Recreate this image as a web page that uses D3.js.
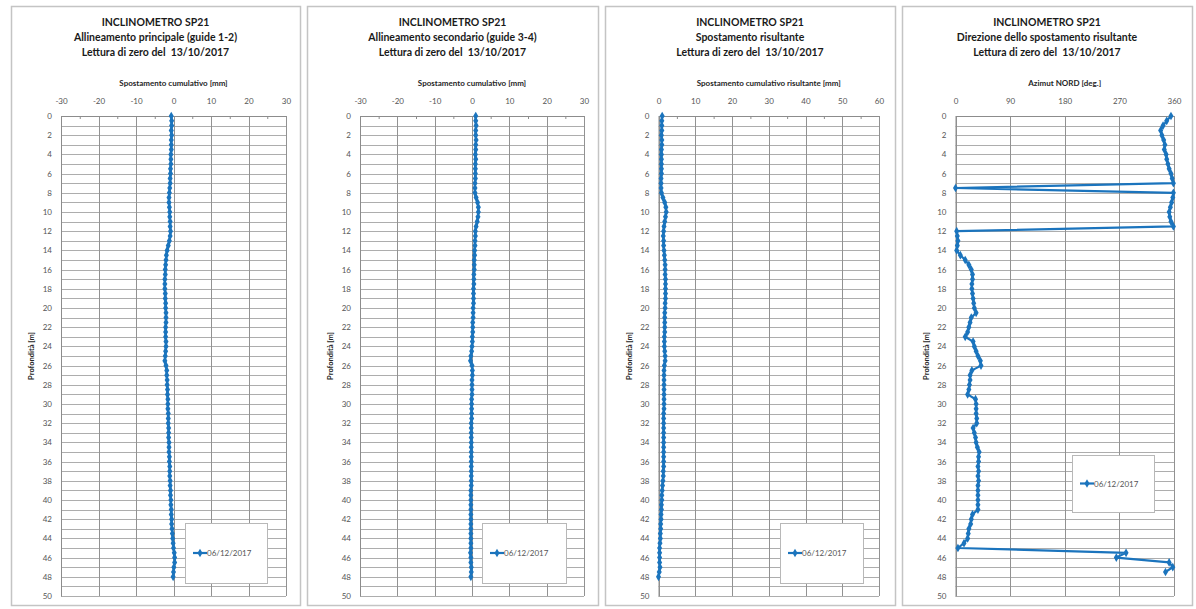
<!DOCTYPE html>
<html>
<head>
<meta charset="utf-8">
<script src="https://cdn.jsdelivr.net/npm/d3@7"></script>
<style>
  html, body { margin: 0; padding: 0; background: #ffffff; }
  svg { display: block; }
  text { font-family: Lato, "Open Sans", "Liberation Sans", sans-serif; white-space: pre; }
</style>
</head>
<body>
<svg id="chart" width="1196" height="609"></svg>
<script>
// Probe depths [m] (reading every 0.5 m)
const depths = [
  0, 0.5, 1, 1.5, 2, 2.5, 3, 3.5, 4, 4.5, 5, 5.5, 6, 6.5, 7, 7.5, 8, 8.5, 9, 9.5,
  10, 10.5, 11, 11.5, 12, 12.5, 13, 13.5, 14, 14.5, 15, 15.5, 16, 16.5, 17, 17.5, 18, 18.5, 19, 19.5,
  20, 20.5, 21, 21.5, 22, 22.5, 23, 23.5, 24, 24.5, 25, 25.5, 26, 26.5, 27, 27.5, 28, 28.5, 29, 29.5,
  30, 30.5, 31, 31.5, 32, 32.5, 33, 33.5, 34, 34.5, 35, 35.5, 36, 36.5, 37, 37.5, 38, 38.5, 39, 39.5,
  40, 40.5, 41, 41.5, 42, 42.5, 43, 43.5, 44, 44.5, 45, 45.5, 46, 46.5, 47, 47.5, 48
];

// Cumulative displacement, main alignment (guides 1-2) [mm]
const dispMain = [
  -0.6, -0.5, -0.5, -0.6, -0.5, -0.6, -0.6, -0.6, -0.7, -0.7, -0.7, -0.8, -0.8, -0.9, -0.9, -1.0, -1.1, -1.2, -1.2, -1.1,
  -1.0, -1.0, -0.9, -0.9, -0.8, -0.9, -1.1, -1.4, -1.7, -1.9, -2.0, -2.1, -2.2, -2.2, -2.3, -2.3, -2.3, -2.2, -2.2, -2.1,
  -2.1, -2.0, -2.0, -2.0, -2.1, -2.1, -2.1, -2.0, -2.0, -2.1, -2.2, -2.3, -2.0, -1.8, -1.8, -1.7, -1.7, -1.6, -1.6, -1.5,
  -1.5, -1.5, -1.4, -1.4, -1.4, -1.3, -1.3, -1.3, -1.2, -1.2, -1.2, -1.1, -1.1, -1.0, -1.0, -1.0, -0.9, -0.9, -0.8, -0.8,
  -0.7, -0.7, -0.6, -0.6, -0.5, -0.5, -0.4, -0.3, -0.2, -0.1, 0.0, 0.2, 0.3, 0.3, 0.1, 0.0, -0.1
];

// Cumulative displacement, secondary alignment (guides 3-4) [mm]
const dispSecondary = [
  1.0, 1.0, 1.1, 1.0, 1.0, 1.1, 1.0, 1.0, 0.9, 1.0, 0.9, 0.9, 0.9, 0.9, 0.8, 0.8, 0.8, 1.1, 1.5, 1.7,
  1.7, 1.6, 1.4, 1.1, 0.9, 0.9, 0.8, 0.8, 0.7, 0.7, 0.6, 0.6, 0.6, 0.5, 0.5, 0.5, 0.4, 0.4, 0.4, 0.4,
  0.3, 0.3, 0.3, 0.2, 0.2, 0.2, 0.1, 0.1, 0.0, -0.1, -0.3, -0.4, 0.0, 0.1, 0.1, 0.0, 0.0, 0.0, 0.0, -0.1,
  -0.1, -0.1, -0.1, -0.1, -0.2, -0.2, -0.2, -0.2, -0.2, -0.2, -0.2, -0.2, -0.2, -0.2, -0.2, -0.2, -0.2, -0.2, -0.3, -0.3,
  -0.3, -0.3, -0.3, -0.3, -0.3, -0.3, -0.3, -0.3, -0.3, -0.3, -0.3, -0.4, -0.3, -0.3, -0.2, -0.2, -0.3
];

// Resultant cumulative displacement [mm]
const dispResultant = [
  1.0, 0.9, 0.9, 0.9, 0.8, 0.9, 0.9, 0.8, 0.8, 0.8, 0.8, 0.8, 0.8, 0.7, 0.7, 0.7, 0.8, 1.2, 1.7, 2.0,
  2.1, 1.9, 1.7, 1.5, 1.4, 1.3, 1.4, 1.4, 1.5, 1.6, 1.7, 1.8, 1.8, 1.8, 1.9, 1.9, 1.9, 1.9, 1.9, 1.8,
  1.8, 1.7, 1.7, 1.7, 1.7, 1.7, 1.6, 1.6, 1.6, 1.7, 1.8, 1.8, 1.6, 1.5, 1.5, 1.5, 1.5, 1.5, 1.5, 1.5,
  1.5, 1.5, 1.4, 1.4, 1.4, 1.4, 1.4, 1.4, 1.4, 1.4, 1.4, 1.4, 1.4, 1.4, 1.3, 1.3, 1.2, 1.1, 1.0, 0.9,
  0.9, 0.8, 0.8, 0.7, 0.7, 0.6, 0.6, 0.5, 0.5, 0.4, 0.3, 0.3, 0.3, 0.3, 0.4, 0.2, 0.0
];

// Direction of the resultant displacement, azimuth from north [deg] (no value at 48 m)
const azimuthDepths = depths.slice(0, 96);
const azimuth = [
  355, 348, 342, 338, 340, 343, 345, 344, 347, 348, 350, 352, 355, 357, 359, 0, 359, 358, 356, 354,
  352, 353, 355, 359, 2, 3, 4, 3, 2, 8, 16, 22, 26, 28, 28, 27, 27, 28, 29, 30,
  31, 34, 26, 24, 22, 20, 16, 29, 31, 34, 37, 41, 42, 27, 24, 24, 23, 22, 20, 33,
  34, 34, 34, 35, 35, 29, 31, 33, 34, 36, 39, 38, 38, 37, 38, 37, 38, 37, 37, 37,
  37, 37, 37, 28, 26, 25, 22, 21, 20, 14, 4, 281, 265, 352, 358, 346
];

const dispTicks = [-30, -20, -10, 0, 10, 20, 30];
const dispMinor = [-25, -15, -5, 5, 15, 25];
const resTicks = [0, 10, 20, 30, 40, 50, 60];
const resMinor = [5, 15, 25, 35, 45, 55];
const aziTicks = [0, 90, 180, 270, 360];
const depthTicks = [0, 2, 4, 6, 8, 10, 12, 14, 16, 18, 20, 22, 24, 26, 28, 30, 32, 34, 36, 38, 40, 42, 44, 46, 48, 50];
const depthGrid = d3.range(0, 51, 1);

const seriesLabel = "06/12/2017";
const titleMain = "INCLINOMETRO SP21";
const titleZero = "Lettura di zero del  13/10/2017";
const depthTitle = "Profondità [m]";

const panels = [
  { sub: "Allineamento principale (guide 1-2)", xTitle: "Spostamento cumulativo [mm]",
    domain: [-30, 30], ticks: dispTicks, minor: dispMinor, xs: depths, vals: dispMain },
  { sub: "Allineamento secondario (guide 3-4)", xTitle: "Spostamento cumulativo [mm]",
    domain: [-30, 30], ticks: dispTicks, minor: dispMinor, xs: depths, vals: dispSecondary },
  { sub: "Spostamento risultante", xTitle: "Spostamento cumulativo risultante [mm]",
    domain: [0, 60], ticks: resTicks, minor: resMinor, xs: depths, vals: dispResultant },
  { sub: "Direzione dello spostamento risultante", xTitle: "Azimut NORD [deg.]",
    domain: [0, 360], ticks: aziTicks, minor: [], xs: azimuthDepths, vals: azimuth }
];

// Panel frames and plot areas
const frames = [
  { x: 11, w: 289, plotL: 61, plotR: 286, leg: { x: 185, y: 523, w: 82, h: 60 } },
  { x: 307, w: 291, plotL: 360, plotR: 584, leg: { x: 482, y: 523, w: 84, h: 60 } },
  { x: 605, w: 290, plotL: 658.5, plotR: 879, leg: { x: 780, y: 523, w: 83, h: 60 } },
  { x: 902, w: 290, plotL: 955.5, plotR: 1174, leg: { x: 1072, y: 455, w: 82, h: 57 } }
];
const frameTop = 6, frameBottom = 605;
const plotTop = 116, plotBottom = 596;

const blue = "#1b74bd";
const svg = d3.select("#chart");

// integer tick labels with a plain hyphen for negatives
const fmtTick = d => String(d);

const y = d3.scaleLinear().domain([0, 50]).range([plotTop, plotBottom]);

panels.forEach((p, i) => {
  const f = frames[i];
  const g = svg.append("g");
  const cx = f.x + f.w / 2;

  // frame
  g.append("rect")
    .attr("x", f.x + 0.5).attr("y", frameTop + 0.5)
    .attr("width", f.w).attr("height", frameBottom - frameTop)
    .attr("fill", "#fff").attr("stroke", "#c4c4c4").attr("stroke-width", 1.5);

  // titles
  [titleMain, p.sub, titleZero].forEach((t, k) => {
    g.append("text")
      .attr("x", cx).attr("y", 26 + k * 15)
      .attr("text-anchor", "middle")
      .attr("font-size", 10.5).attr("font-weight", "bold").attr("fill", "#1a1a1a")
      .text(t);
  });

  const x = d3.scaleLinear().domain(p.domain).range([f.plotL, f.plotR]);

  // horizontal grid every metre
  g.append("g").selectAll("line").data(depthGrid).join("line")
    .attr("x1", f.plotL).attr("x2", f.plotR)
    .attr("y1", d => Math.round(y(d)) + 0.5).attr("y2", d => Math.round(y(d)) + 0.5)
    .attr("stroke", "#adadad").attr("stroke-width", 1);

  // vertical grid at major ticks
  g.append("g").selectAll("line").data(p.ticks).join("line")
    .attr("x1", d => Math.round(x(d)) + 0.5).attr("x2", d => Math.round(x(d)) + 0.5)
    .attr("y1", plotTop).attr("y2", plotBottom)
    .attr("stroke", "#929292").attr("stroke-width", 1);

  // top axis labels
  const topAxis = g.append("g")
    .attr("transform", `translate(0,${plotTop})`)
    .call(d3.axisTop(x).tickValues(p.ticks).tickSize(0).tickPadding(12).tickFormat(fmtTick));
  topAxis.select(".domain").attr("stroke", "#8c8c8c");
  topAxis.selectAll("text").attr("font-size", 8).attr("fill", "#555")
    .attr("font-family", "Lato, 'Open Sans', sans-serif");

  // minor tick marks hanging from the top edge
  if (p.minor.length) {
    const minorAxis = g.append("g")
      .attr("transform", `translate(0,${plotTop})`)
      .call(d3.axisTop(x).tickValues(p.minor).tickSize(-3).tickFormat(""));
    minorAxis.select(".domain").remove();
    minorAxis.selectAll("line").attr("stroke", "#8c8c8c");
  }

  // x axis title
  g.append("text")
    .attr("x", (f.plotL + f.plotR) / 2).attr("y", 86)
    .attr("text-anchor", "middle")
    .attr("font-size", 8).attr("font-weight", "bold").attr("fill", "#262626")
    .text(p.xTitle);

  // left depth axis
  const leftAxis = g.append("g")
    .attr("transform", `translate(${f.plotL},0)`)
    .call(d3.axisLeft(y).tickValues(depthTicks).tickSize(0).tickPadding(9).tickFormat(fmtTick));
  leftAxis.select(".domain").attr("stroke", "#8c8c8c");
  leftAxis.selectAll("text").attr("font-size", 8).attr("fill", "#555")
    .attr("font-family", "Lato, 'Open Sans', sans-serif");

  // depth axis title
  g.append("text")
    .attr("transform", `translate(${f.plotL - 27},${(plotTop + plotBottom) / 2}) rotate(-90)`)
    .attr("text-anchor", "middle")
    .attr("font-size", 7.5).attr("font-weight", "bold").attr("fill", "#262626")
    .text(depthTitle);

  // series line
  const pts = p.xs.map((d, k) => [p.vals[k], d]);
  g.append("path")
    .datum(pts)
    .attr("fill", "none").attr("stroke", blue).attr("stroke-width", 2.2)
    .attr("stroke-linejoin", "round")
    .attr("d", d3.line().x(d => x(d[0])).y(d => y(d[1])));

  // markers
  const diamond = d3.symbol().type(d3.symbolDiamond).size(22);
  g.append("g").selectAll("path").data(pts).join("path")
    .attr("transform", d => `translate(${x(d[0])},${y(d[1])})`)
    .attr("d", diamond).attr("fill", blue);

  // legend
  const L = f.leg;
  const lg = g.append("g");
  lg.append("rect")
    .attr("x", L.x + 0.5).attr("y", L.y + 0.5).attr("width", L.w).attr("height", L.h)
    .attr("fill", "#fff").attr("stroke", "#b8b8b8").attr("stroke-width", 1);
  const ly = L.y + L.h / 2;
  lg.append("line")
    .attr("x1", L.x + 8).attr("x2", L.x + 22).attr("y1", ly).attr("y2", ly)
    .attr("stroke", blue).attr("stroke-width", 2.2);
  lg.append("path")
    .attr("transform", `translate(${L.x + 15},${ly})`)
    .attr("d", diamond).attr("fill", blue);
  lg.append("text")
    .attr("x", L.x + 22).attr("y", ly + 3)
    .attr("font-size", 8).attr("fill", "#555")
    .text(seriesLabel);
});
</script>
</body>
</html>
